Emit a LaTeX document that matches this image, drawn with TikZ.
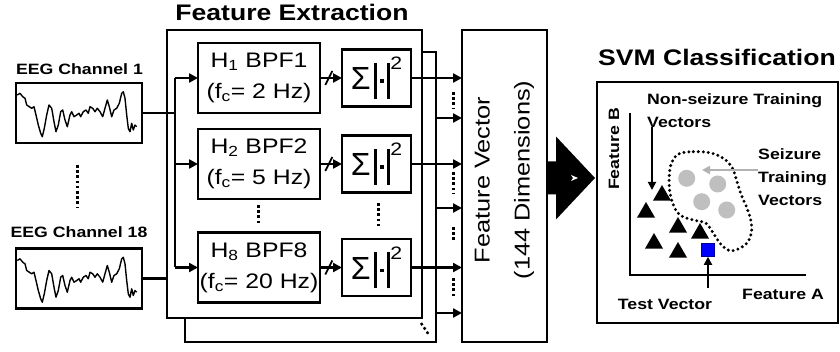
\documentclass[tikz,border=0pt]{standalone}
\usepackage{fontspec}
\setmainfont{Liberation Sans}[FakeStretch=1.18]
\newfontfamily\plainfont{Liberation Sans}
\usetikzlibrary{arrows.meta,calc,shapes.geometric}
\tikzset{
  box/.style    = {draw, line width=2.6pt, fill=white, inner sep=0pt, outer sep=0pt},
  chan/.style   = {box, minimum width=126pt, minimum height=60pt},
  bpf/.style    = {box, minimum width=122pt, minimum height=70pt, align=center,
                   font=\fontsize{21}{31}\selectfont},
  sumbox/.style = {box, minimum width=69pt, minimum height=57pt},
  wire/.style   = {line width=2.4pt},
  arr/.style    = {wire, -{Triangle[length=9pt,width=9pt]}},
  thinarr/.style= {line width=1.8pt, -{Triangle[length=8pt,width=8pt]}},
  vdots/.style  = {line width=3pt, dash pattern=on 2.6pt off 2.6pt},
  trace/.style  = {line width=1.4pt, line join=round},
  head/.style   = {font=\fontsize{22.5}{26}\selectfont\bfseries},
  lbl/.style    = {font=\fontsize{15}{23}\selectfont\bfseries, inner sep=0pt},
  nsv/.style    = {regular polygon, regular polygon sides=3, fill=black,
                   minimum size=21pt, inner sep=0pt},
  sv/.style     = {circle, fill=black!25, minimum size=17pt, inner sep=0pt},
}
\newcommand\sumsq{{\plainfont\fontsize{32}{32}\selectfont Σ}\hspace{3pt}%
  \rule[-9pt]{3.6pt}{36pt}\hspace{3pt}\raisebox{7pt}{\rule{3.5pt}{3.5pt}}\hspace{3pt}%
  \rule[-9pt]{3.6pt}{36pt}\raisebox{20pt}{\fontsize{18}{18}\selectfont 2}}

\begin{document}
\begin{tikzpicture}[x=1pt,y=-1pt]
  \path[use as bounding box, fill=white] (0,0) rectangle (840,352);

  % EEG inputs
  \node[lbl, anchor=base] (lab1) at (79.5,75) {EEG Channel 1};
  \node[chan] (ch1) at (79,113) {};
  \node[lbl, anchor=base] (lab18) at (79,238) {EEG Channel 18};
  \node[chan] (ch18) at (79,278.5) {};
  \foreach \c in {ch1,ch18}
    \draw[trace, shift={(\c.north west)}] plot coordinates {
      (1.3,12) (4,10.3) (6.7,13.7) (9,15.3) (10.7,22) (13.3,23.7) (15.7,25.3)
      (18,23.7) (20,32) (22.3,42) (24.7,50.3) (26.3,53.7) (28.3,45.3) (30.7,32)
      (33,22) (35.7,25.3) (38,38.7) (40,48.7) (42.3,42) (44.7,28.7) (46.7,27)
      (49,37) (51.3,43.7) (54,32) (55.7,28.7) (58,33.7) (60.7,32) (63,30.3)
      (64.7,33.7) (67.3,28.7) (70,27) (72.3,30.3) (74,23.7) (76.7,25.3) (79,28.7)
      (81.3,25.3) (84,28.7) (86.7,33.7) (89,25.3) (91.3,17) (93.3,23.7) (95.7,33.7)
      (98,27) (100.7,25.3) (103.3,20.3) (105.7,10.3) (107.3,8.7) (109,15.3)
      (110.7,32) (112.3,45.3) (114,48.7) (115.7,40.3) (117.3,47) (119,42) (120.7,43.7)};
  \draw[vdots] (77,165) -- (77,207);

  % feature extraction (two stacked layers)
  \node[box, minimum width=251pt, minimum height=290pt] (fe2) at (310.5,197) {};
  \node[box, minimum width=255pt, minimum height=288pt] (fe) at (294.5,174) {};
  \node[head, anchor=base] (fetitle) at (292,21) {Feature Extraction};
  \draw[vdots, line width=2.4pt] (421,323) -- (429,335);

  \node[bpf] (bpf1) at (259,78) {H\textsubscript{1} BPF1\\(f\textsubscript{c}= 2 Hz)};
  \node[bpf] (bpf2) at (259,164) {H\textsubscript{2} BPF2\\(f\textsubscript{c}= 5 Hz)};
  \node[bpf] (bpf8) at (259,267.5) {H\textsubscript{8} BPF8\\(f\textsubscript{c}= 20 Hz)};
  \node[sumbox] (sig1) at (376.5,78) {\sumsq};
  \node[sumbox] (sig2) at (376.5,164) {\sumsq};
  \node[sumbox] (sig8) at (376.5,267.5) {\sumsq};
  \draw[vdots] (258,205) -- (258,225);
  \draw[vdots] (378,203) -- (378,226);

  \coordinate (bus) at (175,113);
  \draw[wire] (ch1.east) -- (bus);
  \draw[wire] (bpf1.west -| bus) -- (bpf8.west -| bus);
  \draw[wire] (ch18.east) -- (ch18.east -| fe.west);
  \foreach \n in {1,2,8} {
    \draw[arr] (bpf\n.east) -- (sig\n.west);
    \draw[arr] (bpf\n.west -| bus) -- (bpf\n.west);
    \draw[line width=1.8pt] ($(bpf\n.east)!0.4!(sig\n.west)+(-3.5,7)$) -- ++(7,-14);
  }

  % feature vector
  \node[box, minimum width=85pt, minimum height=312pt] (fv) at (504.5,186) {};
  \node[rotate=90, align=center, font=\fontsize{21.5}{40}\selectfont] (fvtext)
    at ($(fv.center)+(0,-6)$) {Feature Vector\\(144 Dimensions)};
  \foreach \n in {1,2,8}
    \draw[arr] (sig\n.east) -- (sig\n.east -| fv.west);
  \foreach \y in {118,208,313} {
    \coordinate (k) at (0,\y);
    \draw[arr] (fe2.east |- k) -- (fv.west |- k);
  }
  \foreach \a/\b in {92/108,172/193,227/242,278/297}
    \draw[vdots] (453,\a) -- (453,\b);

  % big arrow to classifier
  \coordinate (ba) at (547,178);
  \fill (ba) ++(0,-16.5) -- ++(9,0) -- ++(0,-25) -- ++(39,41.5) -- ++(-39,41.5)
    -- ++(0,-25) -- ++(-9,0) -- cycle;
  \fill[white] (571,175) -- (578,178) -- (571,181) -- (573,178) -- cycle;

  % SVM classification
  \node[head, anchor=base] (svmtitle) at (717,66) {SVM Classification};
  \node[box, minimum width=241pt, minimum height=241pt] (svm) at (717.5,202.5) {};
  \coordinate (ytop) at (630,113);
  \coordinate (xend) at (806,275);
  \draw[wire, line width=2.6pt] (ytop) |- (xend);
  \node[lbl, rotate=90] (fb) at (614,149) {Feature B};
  \node[lbl, anchor=base] (fa) at (783,300) {Feature A};
  \node[lbl, anchor=base] (tvlbl) at (665,310) {Test Vector};
  \node[lbl, align=left, anchor=north west] (nslbl) at (647,93)
    {Non-seizure Training\\Vectors};
  \node[lbl, align=left, anchor=north west] (szlbl) at (758,148)
    {Seizure\\Training\\Vectors};

  \draw[dash pattern=on 0pt off 5pt, line width=3.3pt, line cap=round]
    plot[smooth cycle, tension=0.6] coordinates {
      (680,153.3) (693.3,151.7) (710,152.7) (723.3,158.3) (731.7,166.7)
      (736,178.3) (740.7,193.3) (748.3,211.7) (751.7,226.7) (749.3,239.3)
      (741.7,247.3) (730,250.7) (720.7,244) (713.3,233.3) (706,223.3)
      (693.3,220) (680,215) (672.7,203.3) (669.3,186.7) (670,168.3) (674,158.3)};

  \node[sv] (s1) at (686.7,178.3) {};
  \node[sv] (s2) at (717.7,184) {};
  \node[sv] (s3) at (701.7,201.7) {};
  \node[sv] (s4) at (726.7,210) {};
  \node[nsv] (n1) at (662,195.5) {};
  \node[nsv] (n2) at (646,212.5) {};
  \node[nsv] (n3) at (678,227.5) {};
  \node[nsv] (n4) at (700,233.5) {};
  \node[nsv] (n5) at (654,243.5) {};
  \node[nsv] (n6) at (678,252.5) {};
  \node[draw=blue!60!black, fill=blue, line width=0.6pt, minimum size=13pt,
        inner sep=0pt] (tv) at (708,250) {};

  \coordinate (nsend) at (652,190);
  \draw[thinarr] (nslbl.south -| nsend) -- (nsend);
  \coordinate (szend) at (702,170);
  \draw[thinarr, black!30] (szlbl.west |- szend) -- (szend);
  \coordinate (tvstart) at (708,288);
  \draw[thinarr] (tvstart) -- (tv.south);
\end{tikzpicture}
\end{document}
